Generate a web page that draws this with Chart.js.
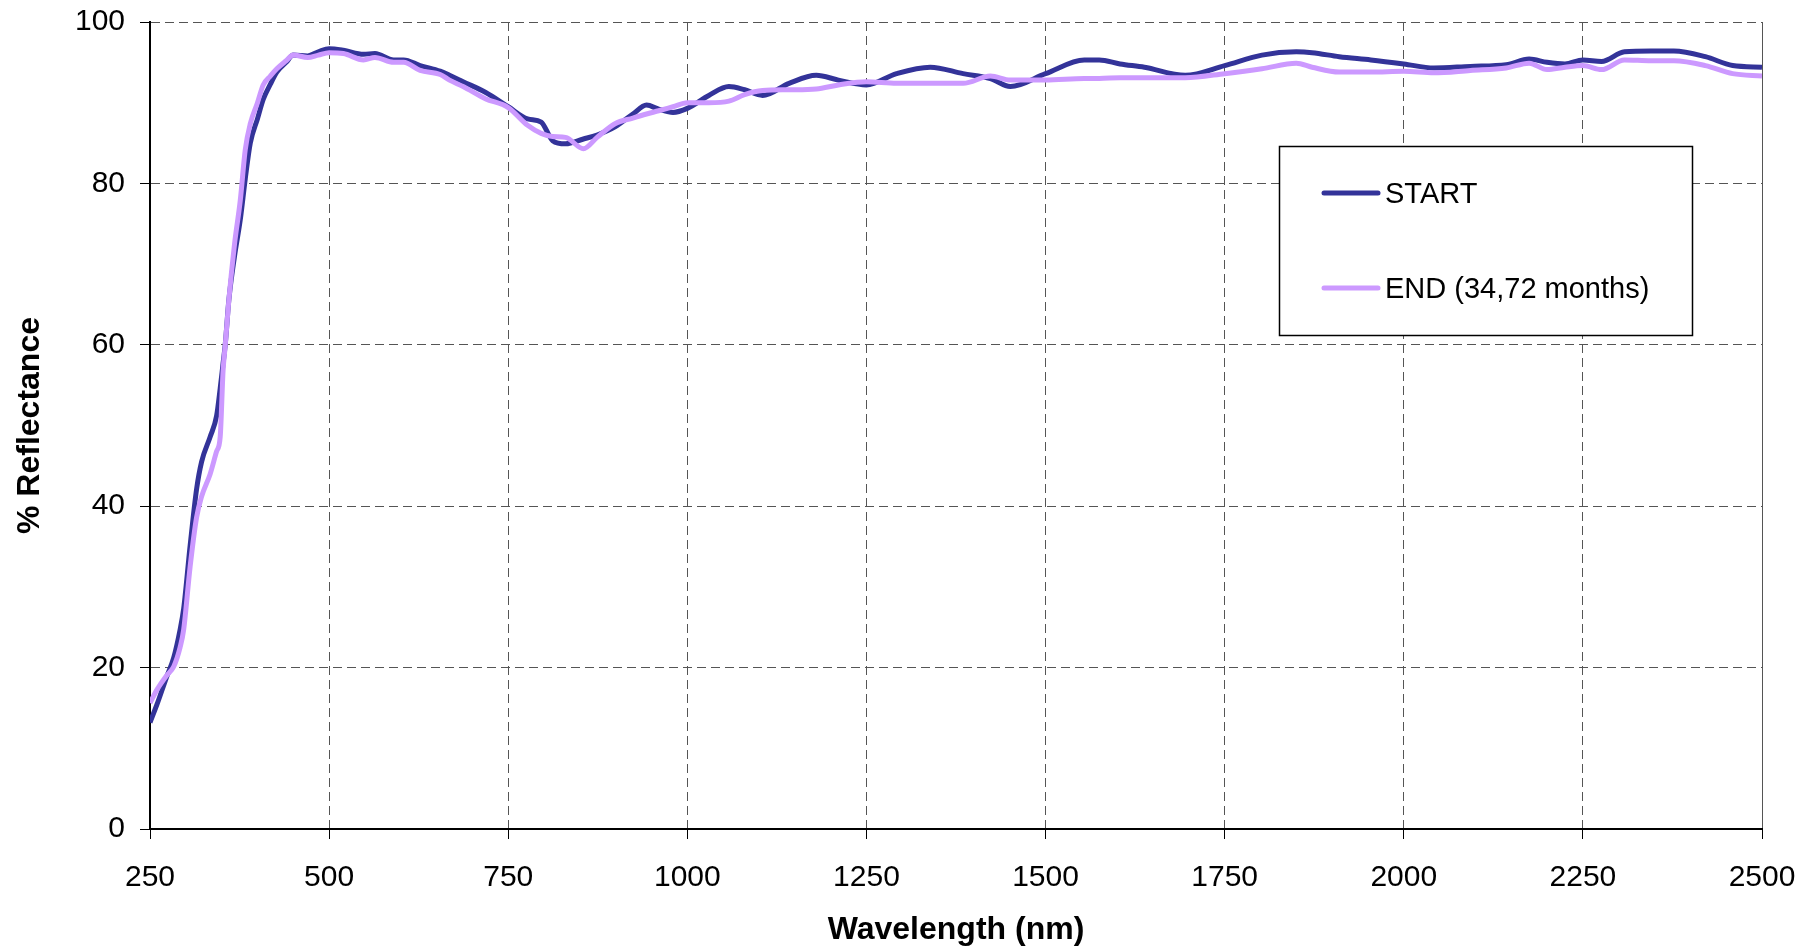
<!DOCTYPE html>
<html>
<head>
<meta charset="utf-8">
<script src="https://cdn.jsdelivr.net/npm/chart.js@4.4.1/dist/chart.umd.min.js"></script>
<style>
  html, body { margin: 0; padding: 0; background: #ffffff; }
  #wrap { width: 1809px; height: 952px; position: relative; }
</style>
</head>
<body>
<div id="wrap"><canvas id="c" width="1809" height="952"></canvas></div>
<script>
// ---- data ----
const wavelengths = [250, 260, 273, 283, 292, 297, 306, 315, 322, 334, 343, 348, 352, 355, 360, 368, 376, 383, 390, 400, 408, 418, 427, 440, 450, 470, 485, 500, 520, 548, 564, 590, 604, 627, 655, 668, 687, 718, 750, 777, 796, 812, 830, 855, 874, 899, 924, 943, 960, 980, 1000, 1030, 1058, 1080, 1105, 1142, 1180, 1211, 1250, 1292, 1339, 1385, 1423, 1451, 1500, 1554, 1575, 1604, 1638, 1695, 1750, 1802, 1850, 1872, 1910, 1954, 2000, 2042, 2093, 2143, 2175, 2200, 2225, 2250, 2276, 2308, 2345, 2377, 2421, 2459, 2500];

const startValues = [13.2, 15.5, 18.8, 21.2, 24.7, 27.3, 35.1, 42.1, 45.5, 48.6, 51.2, 54.6, 57.7, 60.0, 65.5, 71.0, 75.5, 80.6, 85.0, 88.0, 90.4, 92.3, 93.8, 95.0, 95.9, 95.8, 96.3, 96.7, 96.5, 96.0, 96.1, 95.3, 95.3, 94.6, 93.9, 93.4, 92.6, 91.3, 89.5, 88.0, 87.6, 85.3, 84.9, 85.5, 86.0, 87.0, 88.6, 89.7, 89.2, 88.8, 89.3, 90.9, 92.0, 91.6, 90.9, 92.4, 93.4, 92.8, 92.2, 93.6, 94.4, 93.6, 93.0, 92.0, 93.6, 95.3, 95.3, 94.8, 94.4, 93.4, 94.6, 95.9, 96.3, 96.2, 95.7, 95.3, 94.8, 94.3, 94.5, 94.7, 95.4, 95.0, 94.8, 95.3, 95.1, 96.3, 96.4, 96.4, 95.7, 94.6, 94.4];

const endValues = [15.6, 17.3, 19.0, 20.1, 22.5, 24.7, 32.5, 38.6, 41.2, 44.0, 46.8, 48.6, 56.8, 59.9, 65.5, 72.5, 77.9, 84.2, 87.4, 90.0, 92.2, 93.3, 94.2, 95.2, 95.9, 95.6, 95.9, 96.2, 96.1, 95.3, 95.6, 95.0, 95.0, 94.0, 93.5, 92.8, 92.0, 90.5, 89.4, 87.2, 86.2, 85.8, 85.7, 84.3, 85.7, 87.4, 88.1, 88.6, 89.0, 89.5, 90.0, 90.0, 90.2, 91.0, 91.5, 91.6, 91.7, 92.2, 92.6, 92.4, 92.4, 92.4, 93.3, 92.8, 92.8, 93.0, 93.0, 93.1, 93.1, 93.1, 93.6, 94.2, 94.9, 94.4, 93.8, 93.8, 93.9, 93.7, 94.0, 94.3, 94.9, 94.1, 94.4, 94.6, 94.1, 95.3, 95.2, 95.2, 94.6, 93.6, 93.3];

const seriesLabels = ['START', 'END (34,72 months)'];
const seriesColors = ['#333399', '#CC99FF'];
const xTicks = [250, 500, 750, 1000, 1250, 1500, 1750, 2000, 2250, 2500];
const yTicks = [0, 20, 40, 60, 80, 100];
const xTitle = 'Wavelength (nm)';
const yTitle = '% Reflectance';

// ---- chart ----
const FONT = "'Liberation Sans', Arial, sans-serif";

const toPoints = (vals) => wavelengths.map((w, i) => ({ x: w, y: vals[i] }));

const noPad = (s) => { s.paddingTop = 0; s.paddingBottom = 0; s.paddingLeft = 0; s.paddingRight = 0; };

const legendPlugin = {
  id: 'boxLegend',
  afterDatasetsDraw(chart) {
    const ctx = chart.ctx;
    const bx = 1279.5, by = 146.5, bw = 413, bh = 189;
    ctx.save();
    ctx.fillStyle = '#ffffff';
    ctx.fillRect(bx, by, bw, bh);
    ctx.strokeStyle = '#000000';
    ctx.lineWidth = 1.5;
    ctx.strokeRect(bx, by, bw, bh);
    const rows = [193, 288];
    chart.data.datasets.forEach((ds, i) => {
      const y = rows[i];
      ctx.strokeStyle = ds.borderColor;
      ctx.lineWidth = 5;
      ctx.lineCap = 'round';
      ctx.beginPath();
      ctx.moveTo(1324, y);
      ctx.lineTo(1378, y);
      ctx.stroke();
      ctx.fillStyle = '#000000';
      ctx.font = '29px ' + FONT;
      ctx.textBaseline = 'middle';
      ctx.textAlign = 'left';
      ctx.fillText(ds.label, 1385, y + 2);
    });
    ctx.restore();
  }
};

new Chart(document.getElementById('c'), {
  type: 'line',
  data: {
    datasets: [
      { label: seriesLabels[0], data: toPoints(startValues), borderColor: seriesColors[0], backgroundColor: seriesColors[0], borderWidth: 5, pointRadius: 0, cubicInterpolationMode: 'monotone', order: 1 },
      { label: seriesLabels[1], data: toPoints(endValues), borderColor: seriesColors[1], backgroundColor: seriesColors[1], borderWidth: 5, pointRadius: 0, cubicInterpolationMode: 'monotone', order: 0 }
    ]
  },
  options: {
    responsive: false,
    animation: false,
    devicePixelRatio: 1,
    layout: { padding: { top: 22, right: 47, left: 0, bottom: 0 } },
    plugins: { legend: { display: false }, tooltip: { enabled: false } },
    scales: {
      x: {
        type: 'linear',
        min: xTicks[0], max: xTicks[xTicks.length - 1],
        afterBuildTicks: (s) => { s.ticks = xTicks.map(v => ({ value: v })); },
        afterFit: (s) => { s.height = 123; noPad(s); },
        ticks: { color: '#000', font: { family: FONT, size: 30 }, padding: 21, maxRotation: 0, autoSkip: false, callback: (v) => String(v) },
        grid: { color: '#555', lineWidth: 1, tickLength: 10, tickColor: '#000', tickWidth: 1 },
        border: {
          display: true, color: '#000', width: 2,
          dash: (ctx) => (ctx.tick && ctx.tick.value === xTicks[xTicks.length - 1]) ? [] : [9, 5]
        },
        title: { display: true, text: xTitle, color: '#000', font: { family: FONT, size: 32, weight: 'bold' }, padding: { top: 0, bottom: 3 } }
      },
      y: {
        type: 'linear',
        min: yTicks[0], max: yTicks[yTicks.length - 1],
        afterBuildTicks: (s) => { s.ticks = yTicks.map(v => ({ value: v })); },
        afterFit: (s) => { s.width = 150; noPad(s); },
        ticks: { color: '#000', font: { family: FONT, size: 30 }, padding: 15, callback: (v) => String(v) },
        grid: { color: '#555', lineWidth: 1, tickLength: 10, tickColor: '#000', tickWidth: 1 },
        border: { display: true, color: '#000', width: 2, dash: [9, 5] },
        title: { display: true, text: yTitle, color: '#000', font: { family: FONT, size: 32, weight: 'bold' }, padding: { top: 11, bottom: 0 } }
      }
    }
  },
  plugins: [legendPlugin]
});
</script>
</body>
</html>
